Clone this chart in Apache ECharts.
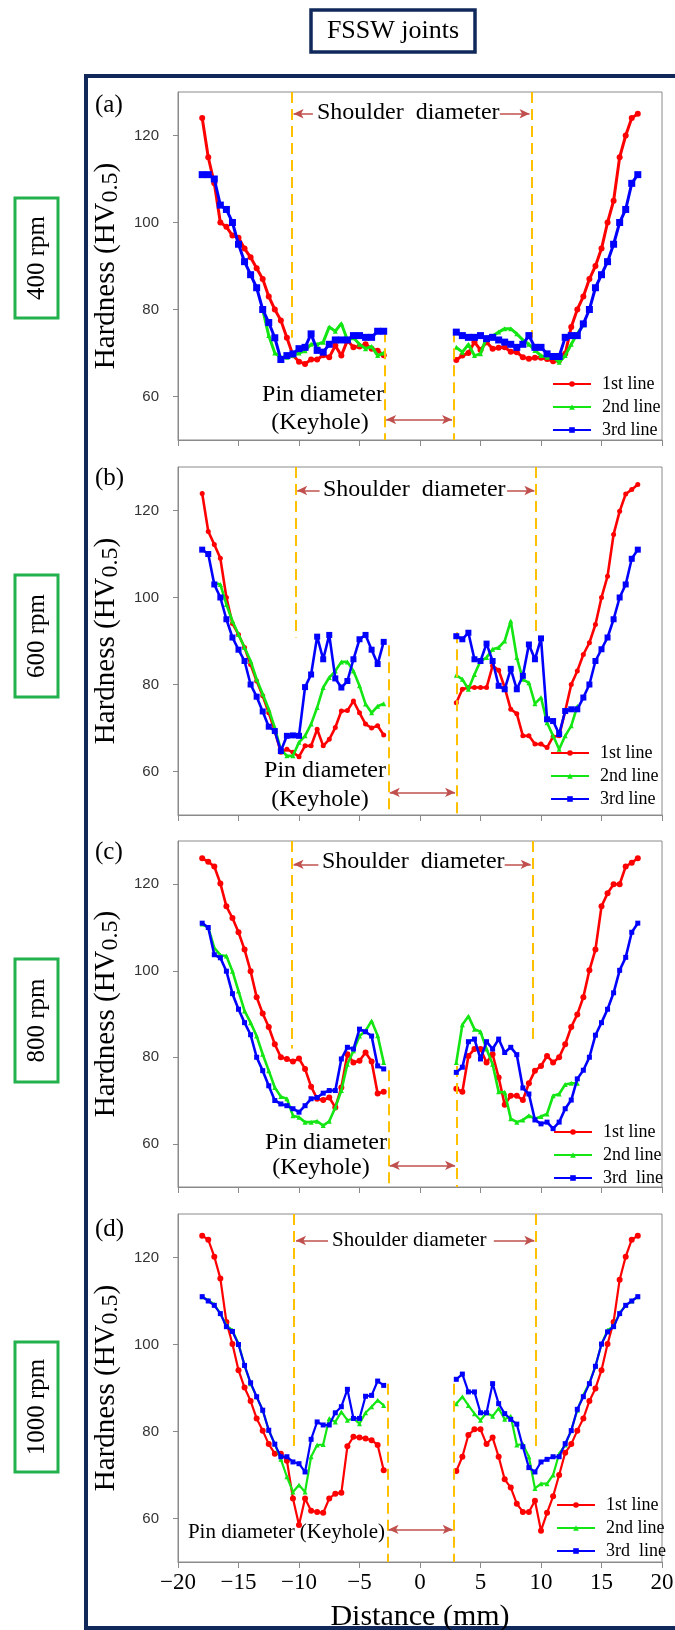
<!DOCTYPE html>
<html>
<head>
<meta charset="utf-8">
<script src="https://cdn.jsdelivr.net/npm/echarts@6/dist/echarts.min.js"></script>
<style>
  html, body { margin: 0; padding: 0; background: #fff; }
  #chart { width: 675px; height: 1630px; }
</style>
</head>
<body>
<div id="chart"></div>
<script>
// measuring positions (mm)
const xLeft = [-18, -17.5, -17, -16.5, -16, -15.5, -15, -14.5, -14, -13.5, -13, -12.5, -12, -11.5, -11, -10.5,
  -10, -9.5, -9, -8.5, -8, -7.5, -7, -6.5, -6, -5.5, -5, -4.5, -4, -3.5, -3];
const xRight = [3, 3.5, 4, 4.5, 5, 5.5, 6, 6.5, 7, 7.5, 8, 8.5, 9, 9.5, 10, 10.5,
  11, 11.5, 12, 12.5, 13, 13.5, 14, 14.5, 15, 15.5, 16, 16.5, 17, 17.5, 18];

const lineNames = ["1st line", "2nd line", "3rd line"];
const yTicks = [60, 80, 100, 120];

// (a) 400 rpm
const aRedL = [124, 115, 109, 100, 99, 97, 96.5, 94, 92, 89.5, 87, 83, 80, 77.5, 73.5, 69.5, 68, 67.5, 68.5, 68.5, 69.5, 69, 71.7, 69.4, 72.9, 71.3, 71.5, 72, 71, 70.5, 69.5];
const aRedR = [68.4, 69.4, 70, 72.5, 70.7, 72.5, 71, 71.2, 71.3, 70.3, 70.2, 69, 68.7, 68.9, 68.9, 68.6, 68.1, 68.3, 69.8, 76, 80, 83, 87, 90, 94, 100, 105, 115, 120, 124, 125];
const aGreenL = [null, null, null, null, null, null, null, null, null, null, 80, 74, 70, 69, 69, 69.5, 70, 70.5, 72, 72, 72.5, 76, 75, 76.8, 73, 73.5, 72, 71, 71.5, 69.4, 70];
const aGreenR = [71.3, 70.2, 72, 69.4, 69.8, 73.6, 73.9, 74.8, 75.6, 75.6, 74.4, 73, 72, 70.6, 69.4, 69, 69, 67.9, 69.4, 72, 74.4, 76.5, null, null, null, null, null, null, null, null, null];
const aBlueL = [111, 111, 110, 104, 103, 100, 95, 91, 88, 85, 80, 77, 73.5, 68.5, 69.4, 69.8, 71, 71.3, 74.4, 70.6, 70.2, 72, 73, 73, 73, 74, 74, 73.6, 73.6, 75, 75];
const aBlueR = [74.8, 74, 73.6, 73.6, 74, 73.3, 73.6, 73, 72.5, 72, 71.3, 72, 74, 71.3, 71.3, 69.8, 69.2, 69.2, 73.6, 74, 74, 76.7, 80, 85, 88, 91, 95, 100, 103, 109, 111];

// (b) 600 rpm
const bRedL = [123.9, 115.2, 112.2, 109, 100, 94, 91.5, 88.5, 84.6, 80.8, 77.4, 73.5, 69.3, 64.4, 65.1, 64.4, 63.4, 65.9, 65.9, 69.7, 65.9, 67.4, 70.1, 73.9, 74, 76.2, 73.5, 70.9, 70, 70.5, 68.4];
const bRedR = [75.8, 78.9, 79.3, 79.3, 79.3, 79.3, 84.3, 83.3, 79.3, 74.3, 73.3, 68.2, 68.2, 66.3, 66.3, 65.5, 68, 68.2, 73.9, 80, 83.1, 86.9, 89.6, 93.8, 100, 104.9, 114.5, 119.8, 123.8, 124.8, 126];
const bGreenL = [null, null, 103.4, 103, 98.4, 94.6, 91.5, 88.5, 85.4, 81.2, 77.8, 74.3, 70.1, 65, 63.6, 63.6, 66.7, 68.2, 70.9, 74.7, 79.3, 81.6, 83.1, 85.2, 85.2, 83.1, 79.7, 75.5, 73.5, 75, 75.6];
const bGreenR = [82.1, 81.2, 78.9, 82.3, 85.4, 86.2, 88.1, 88.5, 90, 94.6, 86.2, 81.2, 80.4, 75.6, 77, 71.2, 68.2, 65.1, 68.2, 70.5, 75, null, null, null, null, null, null, null, null, null, null];
const bBlueL = [111, 110, 103, 100, 95, 90.8, 88, 85.4, 80, 77.2, 73.8, 70.3, 69.3, 64.7, 68.2, 68.3, 68.2, 79.4, 82.3, 91, 85.8, 91.4, 81.4, 79.3, 80.8, 85.8, 90.4, 91.4, 88, 84.7, 89.8];
const bBlueR = [91.1, 90.4, 91.9, 85.8, 85.4, 89.4, 85.4, 79.7, 78.9, 83.6, 78.9, 82, 89.2, 85.8, 90.6, 72, 71.6, 68.6, 73.9, 74.3, 74.3, 77, 80, 85.4, 88.1, 90.8, 95, 100, 103, 108.9, 111];

// (c) 800 rpm
const cRedL = [126, 125.2, 124.1, 120.2, 114.9, 112.2, 108.9, 104.9, 99.9, 93.9, 90.1, 87, 83, 80, 79.6, 79, 79.7, 77.3, 73.2, 70.4, 70.1, 70.7, 68.4, 73, 80.7, 78.8, 79.2, 81.1, 79, 71.6, 72];
const cRedR = [72.7, 72, 80.3, 81.9, 81.9, 78.8, 80.7, 75.3, 69, 71.1, 71.1, 70.1, 74, 76.9, 78, 80.3, 78.8, 80, 83, 87, 89.9, 93.9, 100.1, 104.9, 114.9, 117.9, 120, 120, 124.1, 125, 126];
const cGreenL = [110.8, 110, 105.3, 103.6, 103.4, 99.9, 95.3, 90.7, 88, 84.9, 80.7, 76.9, 73, 70.9, 70.4, 66.5, 66.1, 65, 65, 65.2, 64.2, 65.2, 68.4, 72.3, 78.4, 81.5, 84.9, 86.1, 88.4, 85, 78.8];
const cGreenR = [78.8, 87.5, 89.5, 86.5, 85.9, 81.9, 78.4, 72, 71.9, 65.8, 65, 65.5, 66.5, 65.8, 66.3, 66.9, 71.1, 71.5, 73.7, 74, 74, null, null, null, null, null, null, null, null, null, null];
const cBlueL = [111, 110, 103.7, 103, 99.9, 94.7, 91.1, 88, 85.2, 80, 76.9, 73.4, 70, 69.2, 68.8, 68.1, 67.3, 68.8, 70.4, 70.7, 71.7, 72.3, 72.3, 79.6, 82.3, 81.9, 86.5, 85.9, 84.9, 78, 77.3];
const cBlueR = [76.5, 77.7, 83.6, 84.2, 79.6, 83.6, 81.9, 84.2, 81.1, 82.3, 80.6, 72.9, 71.5, 65.5, 64.6, 65, 63.5, 65, 68.1, 70.1, 75, 77, 80, 85.1, 88, 91.1, 94.9, 100.1, 103.1, 108.9, 111];

// (d) 1000 rpm
const dRedL = [125, 124.1, 120.2, 115.2, 105.2, 100.1, 94.1, 90.1, 87, 83, 80.2, 77.1, 74.9, 74.9, 73.3, 64.6, 58.5, 64.6, 61.8, 61.5, 61.3, 64.6, 65.7, 65.9, 76.6, 78.8, 78.6, 78.4, 78, 76.9, 71.1];
const dRedR = [70.9, 74.2, 79.2, 80.5, 80.5, 77.1, 78.6, 74.2, 69, 67.1, 63.4, 61.5, 61.5, 64.1, 57.2, 61.3, 65.1, 70, 75.1, 77.1, 80.2, 83, 87, 89.9, 94.1, 100.1, 105.2, 114.9, 120.2, 124.1, 125];
const dGreenL = [111, 110.2, 109.2, 107.1, 104.4, 103.3, 100.2, 95.2, 91, 88, 84.9, 80.3, 77.1, 73.6, 69.6, 66.1, 67.7, 66.1, 74.2, 76.9, 77, 83, 82.2, 84.5, 82.6, 83, 81.8, 84.3, 85.7, 87.2, 86];
const dGreenR = [86.4, 88, 86, 84.1, 82.6, 84.3, 83.5, 85.3, 82.8, 83.5, 76.9, 77.1, 74.2, 66.9, 68, 68, 70, 74.9, 76.9, 80.3, 84.9, 88.4, 91.2, 95, 100.1, 103.3, 104.2, 107.3, 109, 110, 111];
const dBlueL = [111, 110, 109, 107.1, 104.1, 103, 100, 95.2, 91.2, 88, 84.9, 80.3, 77.1, 74.2, 74.2, 73, 72.6, 70.7, 78.2, 82.2, 81.5, 81.5, 84.3, 85.7, 89.7, 83, 83, 88.1, 88.3, 91.6, 90.6];
const dBlueR = [92, 93.2, 89.1, 89.1, 84.3, 84.3, 91, 86.4, 84.1, 82.8, 81.7, 76.5, 71.7, 70.7, 73, 73.6, 74.2, 74.2, 77.2, 80.2, 85.1, 88, 91, 95, 100.1, 102.9, 104.1, 107.1, 109, 110, 111];

const SERIF = '"Liberation Serif", "DejaVu Serif", serif';
const SANS = '"Liberation Sans", Arial, sans-serif';
const COLORS = ["#ff0000", "#14e614", "#0000ff"];
const SYMBOLS = ["circle", "triangle", "rect"];
const DASH = "#ffc000";
const ARROW = "#c0504d";
const NAVY = "#10295a";
const GRID_LEFT = 178;
const GRID_WIDTH = 484;

// layout of each panel (pixels) and where its guide lines sit (axis units)
const panels = [
  {
    tag: "(a)", rpm: "400 rpm", top: 92, height: 348, tagY: 106, rpmBox: [198, 120],
    lines: [[aRedL, aRedR], [aGreenL, aGreenR], [aBlueL, aBlueR]],
    width: 3, sizes: [6, 5, 7],
    shoulder: [-10.6, 9.2], shoulderEnd: [73.5, 73.5], pin: [-2.9, 2.75], pinStart: [75, 75],
    arrowY: 125, arrowFrom: [-8.85, 6.6], pinArrowY: 54.7,
    shText: "Shoulder  diameter", shX: 317, shY: 113, shSize: 24,
    pinX: 384, pinY: 395, keyX: 320, keyY: 423, pinSize: 24, oneLine: false,
    legendTop: 375, legendLeft: 552, third: "3rd line"
  },
  {
    tag: "(b)", rpm: "600 rpm", top: 467, height: 348, tagY: 479, rpmBox: [575, 122],
    lines: [[bRedL, bRedR], [bGreenL, bGreenR], [bBlueL, bBlueR]],
    width: 2.6, sizes: [5, 5, 6],
    shoulder: [-10.3, 9.6], shoulderEnd: [90.8, 91], pin: [-2.6, 3.0], pinStart: [89, 92],
    arrowY: 124.6, arrowFrom: [-8.3, 7.2], pinArrowY: 55.2,
    shText: "Shoulder  diameter", shX: 323, shY: 490, shSize: 24,
    pinX: 386, pinY: 771, keyX: 320, keyY: 800, pinSize: 24, oneLine: false,
    legendTop: 744, legendLeft: 550, third: "3rd line"
  },
  {
    tag: "(c)", rpm: "800 rpm", top: 841, height: 346, tagY: 853, rpmBox: [959, 123],
    lines: [[cRedL, cRedR], [cGreenL, cGreenR], [cBlueL, cBlueR]],
    width: 2.6, sizes: [6, 5, 5],
    shoulder: [-10.6, 9.3], shoulderEnd: [82, 83], pin: [-2.6, 3.0], pinStart: [77, 78],
    arrowY: 124.6, arrowFrom: [-8.4, 7.0], pinArrowY: 55,
    shText: "Shoulder  diameter", shX: 322, shY: 862, shSize: 24,
    pinX: 387, pinY: 1143, keyX: 321, keyY: 1168, pinSize: 24, oneLine: false,
    legendTop: 1123, legendLeft: 553, third: "3rd  line"
  },
  {
    tag: "(d)", rpm: "1000 rpm", top: 1214, height: 348, tagY: 1230, rpmBox: [1342, 130],
    lines: [[dRedL, dRedR], [dGreenL, dGreenR], [dBlueL, dBlueR]],
    width: 2.2, sizes: [6, 5, 5],
    shoulder: [-10.4, 9.6], shoulderEnd: [76, 76], pin: [-2.7, 2.8], pinStart: [91, 91],
    arrowY: 123.9, arrowFrom: [-7.6, 6.1], pinArrowY: 57.5,
    shText: "Shoulder diameter", shX: 332, shY: 1240, shSize: 21,
    pinX: 385, pinY: 1532, keyX: 0, keyY: 0, pinSize: 21, oneLine: true,
    legendTop: 1496, legendLeft: 556, third: "3rd  line"
  }
];

function pairs(xs, ys) {
  const out = [];
  xs.forEach((x, i) => { if (ys[i] != null) out.push([x, ys[i]]); });
  return out;
}

function guideLines(p) {
  const dashStyle = { color: DASH, width: 2, type: [11, 6] };
  const arrowStyle = { color: ARROW, width: 1.5, type: "solid" };
  const v = (x, y1, y2) => [
    { coord: [x, y1], symbol: "none", lineStyle: dashStyle },
    { coord: [x, y2], symbol: "none", lineStyle: dashStyle }
  ];
  const arrow = (x1, x2, y, both) => [
    { coord: [x1, y], symbol: both ? "arrow" : "none", symbolSize: [7, 10], lineStyle: arrowStyle },
    { coord: [x2, y], symbol: "arrow", symbolSize: [7, 10], lineStyle: arrowStyle }
  ];
  return [
    v(p.shoulder[0], 130, p.shoulderEnd[0]),
    v(p.shoulder[1], 130, p.shoulderEnd[1]),
    v(p.pin[0], p.pinStart[0], 50),
    v(p.pin[1], p.pinStart[1], 50),
    arrow(p.arrowFrom[0], p.shoulder[0] + 0.15, p.arrowY, false),
    arrow(p.arrowFrom[1], p.shoulder[1] - 0.15, p.arrowY, false),
    arrow(p.pin[0] + 0.1, p.pin[1] - 0.1, p.pinArrowY, true)
  ];
}

const grid = [], xAxis = [], yAxis = [], series = [], legend = [], graphic = [];

panels.forEach((p, gi) => {
  const last = gi === panels.length - 1;
  grid.push({
    left: GRID_LEFT, width: GRID_WIDTH, top: p.top, height: p.height,
    show: true, borderColor: "#8a8a8a", borderWidth: 1, outerBoundsMode: "none"
  });
  xAxis.push({
    type: "value", gridIndex: gi, min: -20, max: 20, interval: 5,
    axisLine: { show: true, onZero: false, lineStyle: { color: "#8a8a8a" } },
    axisTick: { show: true, inside: false, length: 6, lineStyle: { color: "#8a8a8a" } },
    splitLine: { show: false },
    axisLabel: {
      show: last, margin: 9, color: "#000", fontFamily: SERIF, fontSize: 23,
      formatter: (val) => String(val).replace("-", "\u2212")
    },
    name: last ? "Distance (mm)" : "",
    nameLocation: "middle", nameGap: 40,
    nameTextStyle: { color: "#000", fontFamily: SERIF, fontSize: 30 }
  });
  yAxis.push({
    type: "value", gridIndex: gi, min: 50, max: 130,
    axisLine: { show: true, onZero: false, lineStyle: { color: "#8a8a8a" } },
    axisTick: { show: true, length: 5, customValues: yTicks, lineStyle: { color: "#8a8a8a" } },
    splitLine: { show: false },
    axisLabel: { customValues: yTicks, margin: 19, color: "#333", fontFamily: SANS, fontSize: 15 },
    name: "{m|Hardness (HV}{s|0.5}{m|)}",
    nameLocation: "middle", nameRotate: 90, nameGap: 52,
    nameTextStyle: {
      rich: {
        m: { fontFamily: SERIF, fontSize: 29, color: "#000", lineHeight: 34 },
        s: { fontFamily: SERIF, fontSize: 24, color: "#000", lineHeight: 24, verticalAlign: "bottom" }
      }
    }
  });

  p.lines.forEach((pair, li) => {
    [xLeft, xRight].forEach((xs, side) => {
      const s = {
        name: lineNames[li], type: "line", xAxisIndex: gi, yAxisIndex: gi,
        data: pairs(xs, pair[side]),
        symbol: SYMBOLS[li], symbolSize: p.sizes[li], showAllSymbol: true,
        itemStyle: { color: COLORS[li] },
        lineStyle: { color: COLORS[li], width: p.width },
        animation: false, z: 3 + li
      };
      if (li === 0 && side === 0) {
        s.markLine = {
          silent: true, symbol: "none", label: { show: false }, animation: false,
          data: guideLines(p)
        };
      }
      series.push(s);
    });
  });

  legend.push({
    data: lineNames, orient: "vertical", left: p.legendLeft, top: p.legendTop,
    itemWidth: 38, itemHeight: 7, itemGap: 5, padding: 0, selectedMode: false,
    textStyle: { fontFamily: SERIF, fontSize: 18, color: "#000", padding: [0, 0, 0, 6] },
    formatter: (name) => (name === "3rd line" ? p.third : name)
  });

  // panel letter, rpm box and the written guides
  graphic.push({
    type: "text", left: 95, top: p.tagY - 13,
    style: { text: p.tag, font: "25px " + SERIF, fill: "#000" }
  });
  graphic.push({
    type: "rect", shape: { x: 15, y: p.rpmBox[0], width: 43, height: p.rpmBox[1] },
    style: { fill: "none", stroke: "#22b14c", lineWidth: 3 }
  });
  graphic.push({
    type: "text", x: 37, y: p.rpmBox[0] + p.rpmBox[1] / 2, rotation: Math.PI / 2,
    style: { text: p.rpm, font: "25px " + SERIF, fill: "#000", align: "center", verticalAlign: "middle" }
  });
  graphic.push({
    type: "text", x: p.shX, y: p.shY,
    style: { text: p.shText, font: p.shSize + "px " + SERIF, fill: "#000", align: "left", verticalAlign: "middle" }
  });
  graphic.push({
    type: "text", x: p.pinX, y: p.pinY,
    style: {
      text: p.oneLine ? "Pin diameter (Keyhole)" : "Pin diameter",
      font: p.pinSize + "px " + SERIF, fill: "#000", align: "right", verticalAlign: "middle"
    }
  });
  if (!p.oneLine) {
    graphic.push({
      type: "text", x: p.keyX, y: p.keyY,
      style: { text: "(Keyhole)", font: p.pinSize + "px " + SERIF, fill: "#000", align: "center", verticalAlign: "middle" }
    });
  }
});

// outer frame and title box
graphic.push({
  type: "rect", z: 0, shape: { x: 86, y: 76, width: 620, height: 1552 },
  style: { fill: "none", stroke: NAVY, lineWidth: 4 }
});
graphic.push({
  type: "rect", shape: { x: 311, y: 10, width: 164, height: 42 },
  style: { fill: "#fff", stroke: NAVY, lineWidth: 3.5 }
});
graphic.push({
  type: "text", x: 393, y: 31.5,
  style: { text: "FSSW joints", font: "26px " + SERIF, fill: "#000", align: "center", verticalAlign: "middle" }
});

const chart = echarts.init(document.getElementById("chart"));
chart.setOption({
  backgroundColor: "#fff",
  animation: false,
  grid, xAxis, yAxis, series, legend, graphic
});
</script>
</body>
</html>
